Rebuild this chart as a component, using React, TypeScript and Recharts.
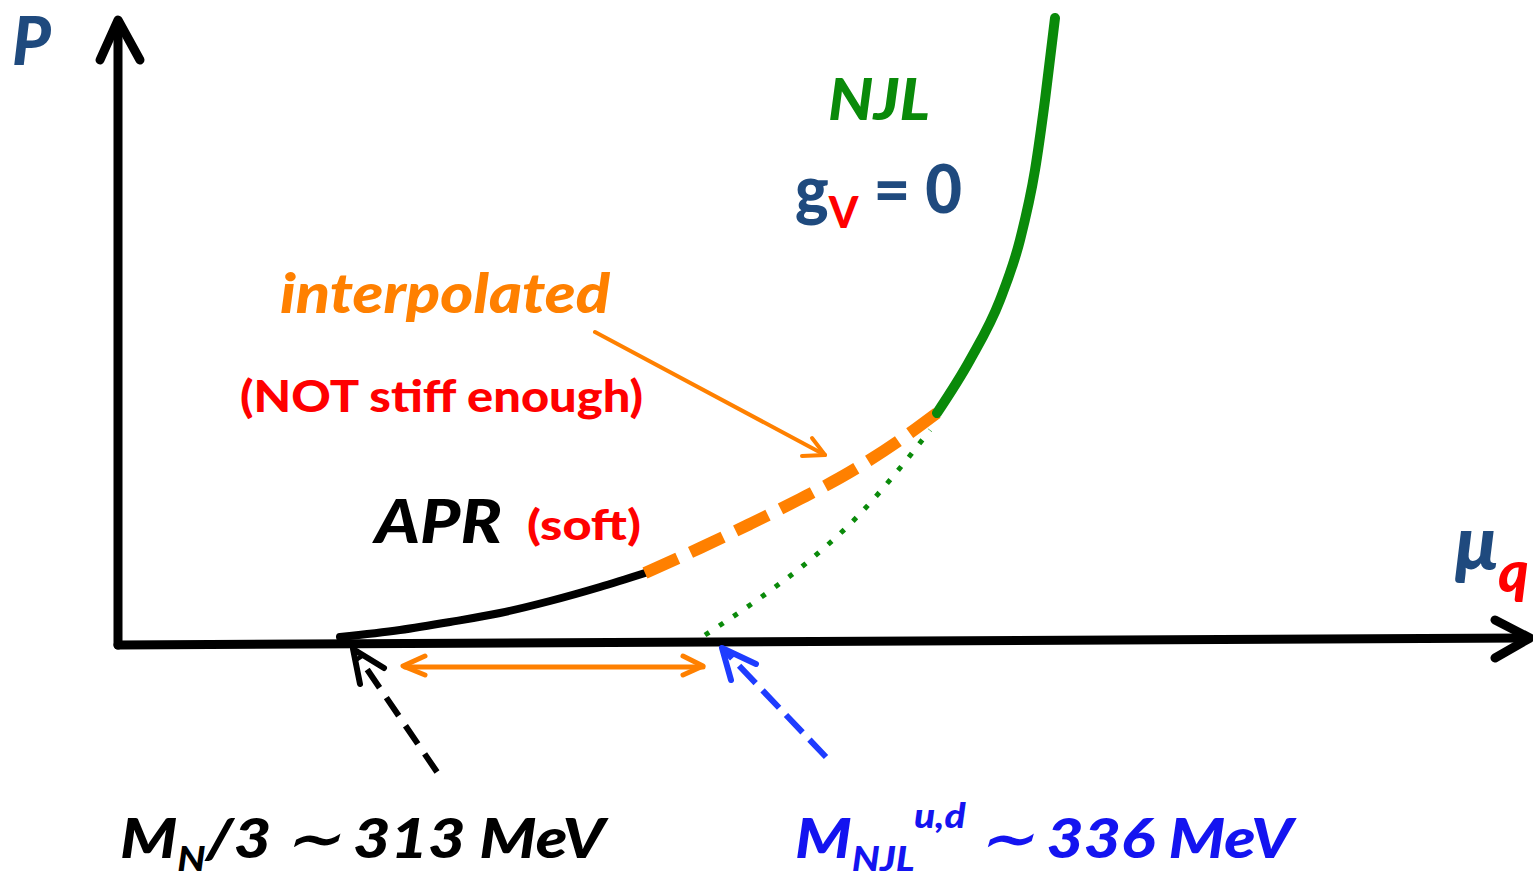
import React from 'react';
import { LineChart, Line, XAxis, YAxis, Customized } from 'recharts';

// schematic units: x grows to the right from the P axis, y grows up from the mu axis
const pAxis = [{ x: -2, y: -1 }, { x: -2, y: 622 }];
const pArrow = [{ x: -20, y: 584 }, { x: -2, y: 624 }, { x: 20, y: 584 }];
const muAxis = [{ x: -2, y: -1 }, { x: 1408, y: 6 }];
const muArrow = [{ x: 1375, y: 24 }, { x: 1410, y: 6 }, { x: 1375, y: -14 }];

const aprCurve = [
  { x: 220, y: 7 }, { x: 280, y: 14 }, { x: 330, y: 22 }, { x: 380, y: 31 },
  { x: 430, y: 43 }, { x: 480, y: 57 }, { x: 525, y: 71 },
];
const interpolatedCurve = [
  { x: 525, y: 71 }, { x: 580, y: 96 }, { x: 630, y: 120 }, { x: 680, y: 145 },
  { x: 730, y: 172 }, { x: 780, y: 204 }, { x: 817, y: 231 },
];
const njlCurve = [
  { x: 817, y: 231 }, { x: 850, y: 284 }, { x: 880, y: 344 }, { x: 900, y: 404 },
  { x: 915, y: 474 }, { x: 925, y: 544 }, { x: 935, y: 626 },
];
const njlLowCurve = [
  { x: 585, y: 9 }, { x: 640, y: 46 }, { x: 690, y: 84 }, { x: 737, y: 127 },
  { x: 780, y: 176 }, { x: 810, y: 214 },
];

const pointerShaft = [{ x: 475, y: 312 }, { x: 705, y: 189 }];
const pointerHead = [{ x: 682, y: 188 }, { x: 705, y: 189 }, { x: 692, y: 206 }];
const gapShaft = [{ x: 285, y: -23 }, { x: 583, y: -23 }];
const gapHeadL = [{ x: 305, y: -12 }, { x: 283, y: -22 }, { x: 305, y: -31 }];
const gapHeadR = [{ x: 563, y: -12 }, { x: 583, y: -22 }, { x: 563, y: -31 }];
const mnShaft = [{ x: 317, y: -128 }, { x: 238, y: -12 }];
const mnHead = [{ x: 240, y: -40 }, { x: 233, y: -5 }, { x: 264, y: -24 }];
const mnjlShaft = [{ x: 706, y: -113 }, { x: 606, y: -8 }];
const mnjlHead = [{ x: 611, y: -36 }, { x: 602, y: -4 }, { x: 636, y: -20 }];

const BLUE_DARK = '#1F4A7E';
const GREEN = '#0A8A0A';
const ORANGE = '#FF8000';
const RED = '#FF0000';
const BLUE = '#1414F0';
const FONT = 'Lato, "Open Sans", sans-serif';
const FIT = 'spacingAndGlyphs';

const Annotations = () => (
  <g fontFamily={FONT} fontWeight={900}>
    <text x={12} y={65} fontSize={66} fontStyle="italic" fill={BLUE_DARK}>P</text>
    <text x={828} y={120} fontSize={58} fontStyle="italic" fill={GREEN} textLength={102} lengthAdjust={FIT}>NJL</text>
    <text x={795} y={213} fontSize={66} fill={BLUE_DARK} textLength={167} lengthAdjust={FIT}>
      g<tspan fontSize={44} fill={RED} dy={15}>V</tspan>
      <tspan dy={-15}> = 0</tspan>
    </text>
    <text x={280} y={313} fontSize={56} fontStyle="italic" fill={ORANGE} textLength={330} lengthAdjust={FIT}>interpolated</text>
    <text x={240} y={412} fontSize={44} fill={RED} textLength={403} lengthAdjust={FIT}>(NOT stiff enough)</text>
    <text x={375} y={543} fontSize={60} fontStyle="italic" fill="#000" textLength={127} lengthAdjust={FIT}>APR</text>
    <text x={527} y={540} fontSize={42} fill={RED} textLength={114} lengthAdjust={FIT}>(soft)</text>
    <text x={1455} y={570} fontSize={76} fontStyle="italic" fill={BLUE_DARK}>
      μ<tspan fontSize={58} fill={RED} dy={22}>q</tspan>
    </text>
    <text x={120} y={858} fontSize={56} fontStyle="italic" fill="#000" textLength={485} lengthAdjust={FIT}>
      M<tspan fontSize={34} dy={13}>N</tspan>
      <tspan dy={-13}>/3 ∼ 313 MeV</tspan>
    </text>
    <text x={795} y={858} fontSize={56} fontStyle="italic" fill={BLUE} textLength={498} lengthAdjust={FIT}>
      M<tspan fontSize={34} dy={13}>NJL</tspan>
      <tspan fontSize={34} dy={-43}>u,d</tspan>
      <tspan dy={30}> ∼ 336 MeV</tspan>
    </text>
  </g>
);

const seg = (data: { x: number; y: number }[], color: string, width: number, dash?: string, curved = false) => (
  <Line
    data={data}
    dataKey="y"
    type={curved ? 'monotone' : 'linear'}
    stroke={color}
    strokeWidth={width}
    strokeDasharray={dash}
    strokeLinecap={dash ? 'butt' : 'round'}
    strokeLinejoin="round"
    dot={false}
    activeDot={false}
    isAnimationActive={false}
  />
);

export default function App() {
  return (
    <div style={{ position: 'absolute', left: 0, top: 0, background: '#fff' }}>
      <LineChart width={1533} height={881} margin={{ top: 0, right: 0, bottom: 0, left: 0 }}>
        <XAxis type="number" dataKey="x" domain={[-120, 1413]} hide allowDataOverflow />
        <YAxis type="number" domain={[-237, 644]} hide allowDataOverflow />
        {seg(pAxis, '#000', 9)}
        {seg(pArrow, '#000', 9)}
        {seg(muAxis, '#000', 9)}
        {seg(muArrow, '#000', 9)}
        {seg(njlLowCurve, GREEN, 5, '5 12', true)}
        {seg(aprCurve, '#000', 8, undefined, true)}
        {seg(interpolatedCurve, ORANGE, 12, '36 14', true)}
        {seg(njlCurve, GREEN, 10, undefined, true)}
        {seg(pointerShaft, ORANGE, 4)}
        {seg(pointerHead, ORANGE, 4)}
        {seg(gapShaft, ORANGE, 5)}
        {seg(gapHeadL, ORANGE, 5)}
        {seg(gapHeadR, ORANGE, 5)}
        {seg(mnShaft, '#000', 6, '22 12')}
        {seg(mnHead, '#000', 6)}
        {seg(mnjlShaft, '#1E3CFF', 6, '24 10')}
        {seg(mnjlHead, '#1E3CFF', 6)}
        <Customized component={Annotations} />
      </LineChart>
    </div>
  );
}
